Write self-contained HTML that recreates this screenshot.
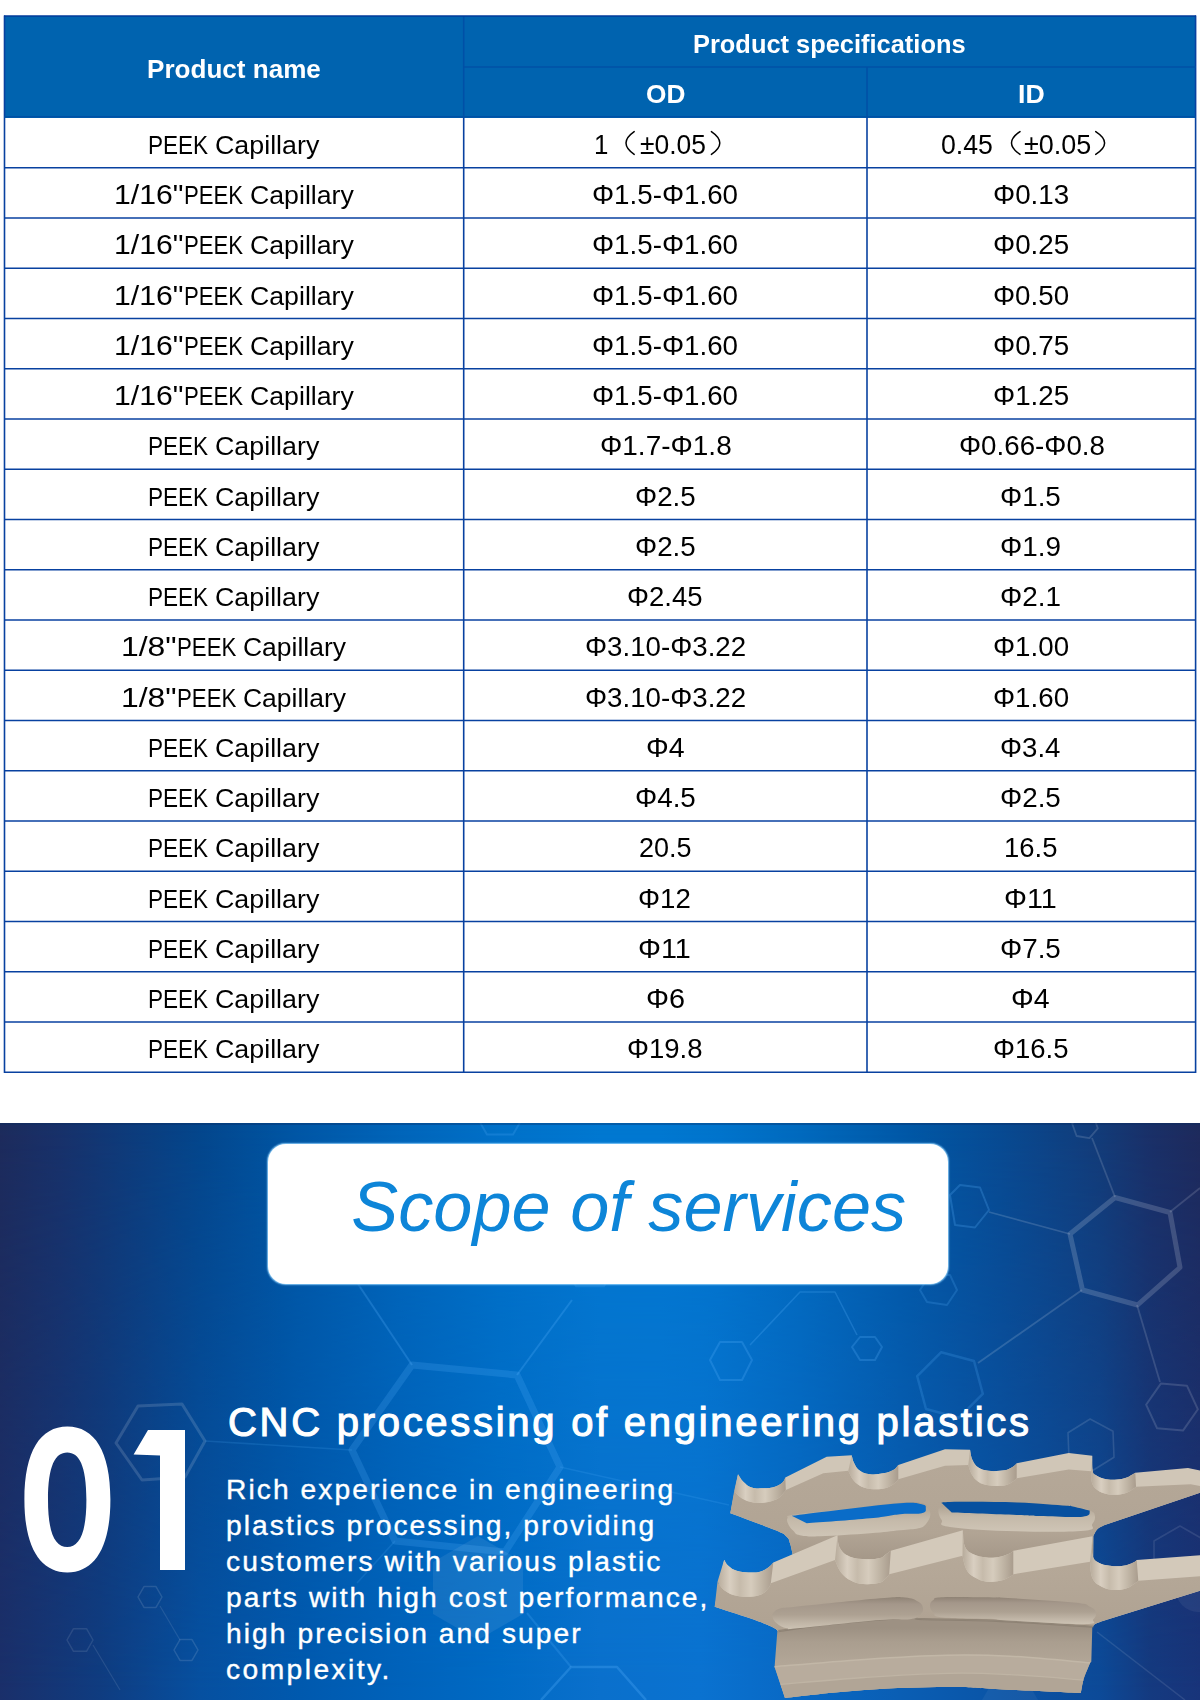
<!DOCTYPE html>
<html><head><meta charset="utf-8"><title>PEEK Capillary</title>
<style>
html,body{margin:0;padding:0;}
body{width:1200px;height:1700px;position:relative;background:#fff;overflow:hidden;font-family:"Liberation Sans",sans-serif;}
.hd{position:absolute;left:4px;top:16px;width:1192px;height:102px;background:#0063af;}
.t,.h{position:absolute;white-space:nowrap;font-size:26px;line-height:30px;transform-origin:0 24px;color:#000;}
.h{font-weight:bold;color:#fff;}
#grid{position:absolute;left:0;top:0;}
#blue{position:absolute;left:0;top:1123px;width:1200px;height:577px;overflow:hidden;
background:linear-gradient(90deg,#1d2b5c 0px,#18316a 60px,#0f3a79 120px,#04468c 200px,#0057a6 300px,#0065ba 400px,#0071c9 500px,#0078d1 600px,#0078d1 660px,#0074cc 720px,#006abe 800px,#0059a8 900px,#084a92 1000px,#133b78 1100px,#1a3068 1150px,#1e2a5c 1200px);}
#blue2{position:absolute;left:0;top:0;width:1200px;height:577px;
background:linear-gradient(90deg,#1a2f6a 0px,#0f3c80 100px,#0650a0 200px,#0059ae 300px,#0062ba 400px,#006ac4 500px,#0a70cc 600px,#0a72d0 700px,#0868c4 800px,#0a5eb4 900px,#0a54a6 1000px,#0c4a98 1100px,#143a80 1150px,#18347a 1200px);
-webkit-mask-image:linear-gradient(180deg,rgba(0,0,0,0) 0px,rgba(0,0,0,1) 570px);mask-image:linear-gradient(180deg,rgba(0,0,0,0) 0px,rgba(0,0,0,1) 570px);}
#box{position:absolute;left:268px;top:21px;width:680px;height:140px;border-radius:18px;background:#fff;box-shadow:0 0 1.5px 0.5px rgba(150,215,255,.85);}
#scope{position:absolute;font-style:italic;color:#0d85d8;white-space:nowrap;}
.n01{position:absolute;font-weight:bold;color:#fff;white-space:nowrap;transform-origin:0 0;}
#h2,#para{position:absolute;color:#fff;white-space:nowrap;}
</style></head><body>
<div class="hd"></div>
<svg id="grid" width="1200" height="1100" viewBox="0 0 1200 1100"><g stroke="#0841a0" stroke-width="1.6" fill="none"><line x1="4" y1="167.75" x2="1196" y2="167.75"/><line x1="4" y1="218.00" x2="1196" y2="218.00"/><line x1="4" y1="268.25" x2="1196" y2="268.25"/><line x1="4" y1="318.50" x2="1196" y2="318.50"/><line x1="4" y1="368.75" x2="1196" y2="368.75"/><line x1="4" y1="419.00" x2="1196" y2="419.00"/><line x1="4" y1="469.25" x2="1196" y2="469.25"/><line x1="4" y1="519.50" x2="1196" y2="519.50"/><line x1="4" y1="569.75" x2="1196" y2="569.75"/><line x1="4" y1="620.00" x2="1196" y2="620.00"/><line x1="4" y1="670.25" x2="1196" y2="670.25"/><line x1="4" y1="720.50" x2="1196" y2="720.50"/><line x1="4" y1="770.75" x2="1196" y2="770.75"/><line x1="4" y1="821.00" x2="1196" y2="821.00"/><line x1="4" y1="871.25" x2="1196" y2="871.25"/><line x1="4" y1="921.50" x2="1196" y2="921.50"/><line x1="4" y1="971.75" x2="1196" y2="971.75"/><line x1="4" y1="1022.00" x2="1196" y2="1022.00"/><line x1="4" y1="1072.25" x2="1196" y2="1072.25"/><line x1="4.5" y1="15.5" x2="4.5" y2="1073"/><line x1="1195.6" y1="15.5" x2="1195.6" y2="1073"/><line x1="463.7" y1="117" x2="463.7" y2="1073"/><line x1="867" y1="117" x2="867" y2="1073"/></g><g stroke="#0050a6" stroke-width="1.6" fill="none"><line x1="463.7" y1="16" x2="463.7" y2="117.5"/><line x1="867" y1="67" x2="867" y2="117.5"/><line x1="463.7" y1="67" x2="1196" y2="67"/><line x1="4" y1="116.8" x2="1196" y2="116.8"/></g><line x1="4" y1="16" x2="1196" y2="16" stroke="#003a9a" stroke-width="1.4"/><g stroke="#000" stroke-width="1.5" fill="none" stroke-linecap="round"><path d="M634.2,131.6 Q617.8,143 634.2,154.4"/><path d="M711.4,131.6 Q728.2,143 711.4,154.4"/><path d="M1020.0,131.6 Q1003.0,143 1020.0,154.4"/><path d="M1095.7,131.6 Q1113.5,143 1095.7,154.4"/></g></svg>
<span class="h" style="left:146.95px;top:53.74px;transform:scaleX(1.0026)">Product name</span>
<span class="h" style="left:693.49px;top:29.19px;transform:scaleX(0.9775)">Product specifications</span>
<span class="h" style="left:645.96px;top:78.99px;transform:scaleX(1.0095)">OD</span>
<span class="h" style="left:1017.71px;top:78.99px;transform:scaleX(1.0249)">ID</span>
<span class="t" style="left:148.16px;top:129.79px;transform:scaleX(0.8673)">PEEK</span>
<span class="t" style="left:215.18px;top:129.79px;transform:scaleX(1.0316)">Capillary</span>
<span class="t" style="left:594.11px;top:129.79px;transform:scale(0.9956,1.04)">1</span>
<span class="t" style="left:639.61px;top:129.79px;transform:scale(1.0163,1.04)">±0.05</span>
<span class="t" style="left:940.87px;top:129.79px;transform:scale(1.0268,1.04)">0.45</span>
<span class="t" style="left:1023.79px;top:129.79px;transform:scale(1.0370,1.04)">±0.05</span>
<span class="t" style="left:113.88px;top:180.04px;transform:scale(1.1612,1.04)">1/16&quot;</span>
<span class="t" style="left:184.39px;top:180.04px;transform:scaleX(0.8523)">PEEK</span>
<span class="t" style="left:249.99px;top:180.04px;transform:scaleX(1.0266)">Capillary</span>
<span class="t" style="left:592.40px;top:180.04px;transform:scale(1.0664,1.04)">Φ1.5-Φ1.60</span>
<span class="t" style="left:992.90px;top:180.04px;transform:scale(1.0676,1.04)">Φ0.13</span>
<span class="t" style="left:113.88px;top:230.29px;transform:scale(1.1612,1.04)">1/16&quot;</span>
<span class="t" style="left:184.39px;top:230.29px;transform:scaleX(0.8523)">PEEK</span>
<span class="t" style="left:249.99px;top:230.29px;transform:scaleX(1.0266)">Capillary</span>
<span class="t" style="left:592.40px;top:230.29px;transform:scale(1.0664,1.04)">Φ1.5-Φ1.60</span>
<span class="t" style="left:992.90px;top:230.29px;transform:scale(1.0676,1.04)">Φ0.25</span>
<span class="t" style="left:113.88px;top:280.54px;transform:scale(1.1612,1.04)">1/16&quot;</span>
<span class="t" style="left:184.39px;top:280.54px;transform:scaleX(0.8523)">PEEK</span>
<span class="t" style="left:249.99px;top:280.54px;transform:scaleX(1.0266)">Capillary</span>
<span class="t" style="left:592.40px;top:280.54px;transform:scale(1.0664,1.04)">Φ1.5-Φ1.60</span>
<span class="t" style="left:992.90px;top:280.54px;transform:scale(1.0657,1.04)">Φ0.50</span>
<span class="t" style="left:113.88px;top:330.79px;transform:scale(1.1612,1.04)">1/16&quot;</span>
<span class="t" style="left:184.39px;top:330.79px;transform:scaleX(0.8523)">PEEK</span>
<span class="t" style="left:249.99px;top:330.79px;transform:scaleX(1.0266)">Capillary</span>
<span class="t" style="left:592.40px;top:330.79px;transform:scale(1.0664,1.04)">Φ1.5-Φ1.60</span>
<span class="t" style="left:992.90px;top:330.79px;transform:scale(1.0676,1.04)">Φ0.75</span>
<span class="t" style="left:113.88px;top:381.04px;transform:scale(1.1612,1.04)">1/16&quot;</span>
<span class="t" style="left:184.39px;top:381.04px;transform:scaleX(0.8523)">PEEK</span>
<span class="t" style="left:249.99px;top:381.04px;transform:scaleX(1.0266)">Capillary</span>
<span class="t" style="left:592.40px;top:381.04px;transform:scale(1.0664,1.04)">Φ1.5-Φ1.60</span>
<span class="t" style="left:992.90px;top:381.04px;transform:scale(1.0676,1.04)">Φ1.25</span>
<span class="t" style="left:148.16px;top:431.29px;transform:scaleX(0.8673)">PEEK</span>
<span class="t" style="left:215.18px;top:431.29px;transform:scaleX(1.0316)">Capillary</span>
<span class="t" style="left:599.79px;top:431.29px;transform:scale(1.0756,1.04)">Φ1.7-Φ1.8</span>
<span class="t" style="left:958.60px;top:431.29px;transform:scale(1.0659,1.04)">Φ0.66-Φ0.8</span>
<span class="t" style="left:148.16px;top:481.54px;transform:scaleX(0.8673)">PEEK</span>
<span class="t" style="left:215.18px;top:481.54px;transform:scaleX(1.0316)">Capillary</span>
<span class="t" style="left:634.80px;top:481.54px;transform:scale(1.0673,1.04)">Φ2.5</span>
<span class="t" style="left:1000.00px;top:481.54px;transform:scale(1.0691,1.04)">Φ1.5</span>
<span class="t" style="left:148.16px;top:531.79px;transform:scaleX(0.8673)">PEEK</span>
<span class="t" style="left:215.18px;top:531.79px;transform:scaleX(1.0316)">Capillary</span>
<span class="t" style="left:634.80px;top:531.79px;transform:scale(1.0673,1.04)">Φ2.5</span>
<span class="t" style="left:999.99px;top:531.79px;transform:scale(1.0716,1.04)">Φ1.9</span>
<span class="t" style="left:148.16px;top:582.04px;transform:scaleX(0.8673)">PEEK</span>
<span class="t" style="left:215.18px;top:582.04px;transform:scaleX(1.0316)">Capillary</span>
<span class="t" style="left:627.01px;top:582.04px;transform:scale(1.0589,1.04)">Φ2.45</span>
<span class="t" style="left:999.99px;top:582.04px;transform:scale(1.0716,1.04)">Φ2.1</span>
<span class="t" style="left:121.15px;top:632.29px;transform:scale(1.2260,1.04)">1/8&quot;</span>
<span class="t" style="left:177.38px;top:632.29px;transform:scaleX(0.8553)">PEEK</span>
<span class="t" style="left:242.80px;top:632.29px;transform:scaleX(1.0175)">Capillary</span>
<span class="t" style="left:584.70px;top:632.29px;transform:scale(1.0646,1.04)">Φ3.10-Φ3.22</span>
<span class="t" style="left:992.90px;top:632.29px;transform:scale(1.0657,1.04)">Φ1.00</span>
<span class="t" style="left:121.15px;top:682.54px;transform:scale(1.2260,1.04)">1/8&quot;</span>
<span class="t" style="left:177.38px;top:682.54px;transform:scaleX(0.8553)">PEEK</span>
<span class="t" style="left:242.80px;top:682.54px;transform:scaleX(1.0175)">Capillary</span>
<span class="t" style="left:584.70px;top:682.54px;transform:scale(1.0646,1.04)">Φ3.10-Φ3.22</span>
<span class="t" style="left:992.90px;top:682.54px;transform:scale(1.0657,1.04)">Φ1.60</span>
<span class="t" style="left:148.16px;top:732.79px;transform:scaleX(0.8673)">PEEK</span>
<span class="t" style="left:215.18px;top:732.79px;transform:scaleX(1.0316)">Capillary</span>
<span class="t" style="left:645.55px;top:732.79px;transform:scale(1.0970,1.04)">Φ4</span>
<span class="t" style="left:1000.01px;top:732.79px;transform:scale(1.0618,1.04)">Φ3.4</span>
<span class="t" style="left:148.16px;top:783.04px;transform:scaleX(0.8673)">PEEK</span>
<span class="t" style="left:215.18px;top:783.04px;transform:scaleX(1.0316)">Capillary</span>
<span class="t" style="left:634.80px;top:783.04px;transform:scale(1.0691,1.04)">Φ4.5</span>
<span class="t" style="left:1000.00px;top:783.04px;transform:scale(1.0691,1.04)">Φ2.5</span>
<span class="t" style="left:148.16px;top:833.29px;transform:scaleX(0.8673)">PEEK</span>
<span class="t" style="left:215.18px;top:833.29px;transform:scaleX(1.0316)">Capillary</span>
<span class="t" style="left:638.90px;top:833.29px;transform:scale(1.0383,1.04)">20.5</span>
<span class="t" style="left:1003.89px;top:833.29px;transform:scale(1.0568,1.04)">16.5</span>
<span class="t" style="left:148.16px;top:883.54px;transform:scaleX(0.8673)">PEEK</span>
<span class="t" style="left:215.18px;top:883.54px;transform:scaleX(1.0316)">Capillary</span>
<span class="t" style="left:638.41px;top:883.54px;transform:scale(1.0624,1.04)">Φ12</span>
<span class="t" style="left:1004.34px;top:883.54px;transform:scale(1.1067,1.04)">Φ11</span>
<span class="t" style="left:148.16px;top:933.79px;transform:scaleX(0.8673)">PEEK</span>
<span class="t" style="left:215.18px;top:933.79px;transform:scaleX(1.0316)">Capillary</span>
<span class="t" style="left:638.34px;top:933.79px;transform:scale(1.1067,1.04)">Φ11</span>
<span class="t" style="left:1000.00px;top:933.79px;transform:scale(1.0691,1.04)">Φ7.5</span>
<span class="t" style="left:148.16px;top:984.04px;transform:scaleX(0.8673)">PEEK</span>
<span class="t" style="left:215.18px;top:984.04px;transform:scaleX(1.0316)">Capillary</span>
<span class="t" style="left:645.54px;top:984.04px;transform:scale(1.1096,1.04)">Φ6</span>
<span class="t" style="left:1011.25px;top:984.04px;transform:scale(1.0970,1.04)">Φ4</span>
<span class="t" style="left:148.16px;top:1034.29px;transform:scaleX(0.8673)">PEEK</span>
<span class="t" style="left:215.18px;top:1034.29px;transform:scaleX(1.0316)">Capillary</span>
<span class="t" style="left:627.21px;top:1034.29px;transform:scale(1.0589,1.04)">Φ19.8</span>
<span class="t" style="left:993.01px;top:1034.29px;transform:scale(1.0589,1.04)">Φ16.5</span>
<div id="blue"><div id="blue2"></div><svg id="hex" width="1200" height="577" viewBox="0 0 1200 577" style="position:absolute;left:0;top:0" fill="none" stroke-linejoin="round"><polygon points="1115.0,74.5 1170.0,89.5 1180.0,144.5 1137.5,182.0 1082.5,167.0 1070.0,111.0" stroke="rgb(255,255,255)" stroke-opacity="0.17" stroke-width="5"/><polyline points="1115.0,74.0 1092.0,15.0" stroke="rgb(255,255,255)" stroke-opacity="0.14" stroke-width="1.8"/><polygon points="1097.8,5.3 1089.4,15.2 1076.6,13.0 1072.2,0.7 1080.6,-9.2 1093.4,-7.0" stroke="rgb(255,255,255)" stroke-opacity="0.14" stroke-width="1.8"/><polyline points="1170.0,89.0 1200.0,65.0" stroke="rgb(255,255,255)" stroke-opacity="0.14" stroke-width="1.8"/><polyline points="1070.0,111.0 989.0,89.0" stroke="rgb(255,255,255)" stroke-opacity="0.15" stroke-width="1.8"/><polyline points="1082.0,167.0 978.0,240.0" stroke="rgb(255,255,255)" stroke-opacity="0.15" stroke-width="1.8"/><polyline points="1137.0,182.0 1160.0,259.0" stroke="rgb(255,255,255)" stroke-opacity="0.14" stroke-width="1.8"/><polygon points="950.0,72.0 960.0,62.0 980.0,64.5 989.0,87.0 975.0,104.5 955.0,102.0" stroke="rgb(90,180,255)" stroke-opacity="0.24" stroke-width="2"/><polygon points="982.8,270.8 958.8,294.8 926.0,286.0 917.2,253.2 941.2,229.2 974.0,238.0" stroke="rgb(90,180,255)" stroke-opacity="0.2" stroke-width="2.5"/><polygon points="1197.9,286.3 1183.0,307.6 1157.1,305.3 1146.1,281.7 1161.0,260.4 1186.9,262.7" stroke="rgb(255,255,255)" stroke-opacity="0.14" stroke-width="2"/><polygon points="920.0,167.0 930.0,152.0 950.0,152.0 957.0,167.0 947.0,182.0 927.0,179.0" stroke="rgb(90,180,255)" stroke-opacity="0.2" stroke-width="2"/><polygon points="852.0,224.0 860.0,214.0 875.0,214.0 882.0,224.0 875.0,237.0 860.0,237.0" stroke="rgb(90,180,255)" stroke-opacity="0.24" stroke-width="2"/><polygon points="710.0,237.0 720.0,219.0 742.0,219.0 752.0,237.0 742.0,257.0 720.0,257.0" stroke="rgb(90,180,255)" stroke-opacity="0.24" stroke-width="2"/><polyline points="750.0,222.0 800.0,169.0 835.0,169.0 857.0,212.0" stroke="rgb(90,180,255)" stroke-opacity="0.24" stroke-width="1.6"/><polygon points="412.0,242.0 517.0,252.0 560.0,344.0 505.0,429.0 395.0,418.0 352.0,327.0" stroke="rgb(90,180,255)" stroke-opacity="0.2" stroke-width="7"/><polyline points="412.0,242.0 360.0,164.0" stroke="rgb(90,180,255)" stroke-opacity="0.25" stroke-width="2"/><polyline points="517.0,252.0 572.0,177.0" stroke="rgb(90,180,255)" stroke-opacity="0.25" stroke-width="2"/><polyline points="360.0,164.0 330.0,117.0" stroke="rgb(90,180,255)" stroke-opacity="0.15" stroke-width="2"/><polyline points="395.0,418.0 357.0,460.0" stroke="rgb(90,180,255)" stroke-opacity="0.15" stroke-width="1.6"/><polygon points="526.0,-11.0 513.0,11.5 487.0,11.5 474.0,-11.0 487.0,-33.5 513.0,-33.5" stroke="rgb(90,180,255)" stroke-opacity="0.2" stroke-width="2"/><polygon points="618.0,139.0 604.0,163.2 576.0,163.2 562.0,139.0 576.0,114.8 604.0,114.8" stroke="rgb(90,180,255)" stroke-opacity="0.18" stroke-width="2"/><polygon points="116.0,320.0 138.0,283.0 182.0,281.0 205.0,318.0 185.0,354.0 142.0,357.0" stroke="rgb(255,255,255)" stroke-opacity="0.14" stroke-width="3"/><polyline points="205.0,318.0 352.0,327.0" stroke="rgb(90,180,255)" stroke-opacity="0.16" stroke-width="1.6"/><polygon points="523.0,491.0 478.0,517.0 433.0,491.0 433.0,439.0 478.0,413.0 523.0,439.0" stroke="rgb(255,255,255)" stroke-opacity="0" stroke-width="0" fill="rgba(255,255,255,0.075)"/><polygon points="1038.0,577.0 1024.0,601.2 996.0,601.2 982.0,577.0 996.0,552.8 1024.0,552.8" stroke="rgb(255,255,255)" stroke-opacity="0" stroke-width="0" fill="rgba(255,255,255,0.05)"/><circle cx="1198" cy="467" r="22" fill="rgba(255,255,255,0.06)"/><polyline points="541.0,577.0 571.0,544.0 617.0,544.0 646.0,577.0" stroke="rgb(90,180,255)" stroke-opacity="0.28" stroke-width="2.5"/><polyline points="527.0,490.0 571.0,544.0" stroke="rgb(90,180,255)" stroke-opacity="0.2" stroke-width="2"/><polyline points="560.0,344.0 729.0,382.0" stroke="rgb(90,180,255)" stroke-opacity="0.16" stroke-width="1.6"/><polygon points="162.0,474.0 156.0,484.4 144.0,484.4 138.0,474.0 144.0,463.6 156.0,463.6" stroke="rgb(255,255,255)" stroke-opacity="0.12" stroke-width="1.5"/><polygon points="93.0,517.0 86.5,528.3 73.5,528.3 67.0,517.0 73.5,505.7 86.5,505.7" stroke="rgb(255,255,255)" stroke-opacity="0.1" stroke-width="1.5"/><polygon points="198.0,527.0 192.0,537.4 180.0,537.4 174.0,527.0 180.0,516.6 192.0,516.6" stroke="rgb(255,255,255)" stroke-opacity="0.12" stroke-width="1.5"/><polyline points="160.0,483.0 180.0,517.0" stroke="rgb(255,255,255)" stroke-opacity="0.1" stroke-width="1.2"/><polyline points="93.0,522.0 120.0,567.0" stroke="rgb(255,255,255)" stroke-opacity="0.1" stroke-width="1.2"/><polygon points="1206.0,448.0 1180.0,463.0 1154.0,448.0 1154.0,418.0 1180.0,403.0 1206.0,418.0" stroke="rgb(255,255,255)" stroke-opacity="0.1" stroke-width="1.6"/><polygon points="1114.0,334.2 1091.9,348.0 1069.0,335.8 1068.0,309.8 1090.1,296.0 1113.0,308.2" stroke="rgb(255,255,255)" stroke-opacity="0.12" stroke-width="1.6"/><polyline points="1097.0,509.0 1185.0,577.0" stroke="rgb(255,255,255)" stroke-opacity="0.1" stroke-width="1.5"/><rect x="0" y="0" width="1200" height="2" fill="#0a2a5e" fill-opacity=".35"/></svg><div id="box"></div><svg id="part" width="1200" height="577" viewBox="0 0 1200 577" style="position:absolute;left:0;top:0"><defs>
<linearGradient id="gw" x1="0" x2="1" y1="0" y2="0"><stop offset="0" stop-color="#b7ab9b"/><stop offset=".22" stop-color="#d9cfc1"/><stop offset=".4" stop-color="#c6bbab"/><stop offset=".6" stop-color="#d6ccbd"/><stop offset=".8" stop-color="#c0b5a5"/><stop offset="1" stop-color="#a99c8d"/></linearGradient>
<linearGradient id="gup" x1="0" x2="0" y1="0" y2="1"><stop offset="0" stop-color="#b5a898"/><stop offset=".55" stop-color="#b1a494"/><stop offset=".8" stop-color="#a29586"/><stop offset="1" stop-color="#8f8375"/></linearGradient>
<linearGradient id="glo" x1="0" x2="0" y1="0" y2="1"><stop offset="0" stop-color="#b6a999"/><stop offset="1" stop-color="#afa292"/></linearGradient>
<linearGradient id="gb1" gradientUnits="userSpaceOnUse" x1="0" x2="0" y1="505" y2="540"><stop offset="0" stop-color="#9d9183"/><stop offset=".4" stop-color="#aa9e8f"/><stop offset="1" stop-color="#b2a697"/></linearGradient>
<linearGradient id="gpk" x1="0" x2="0" y1="0" y2="1"><stop offset="0" stop-color="#8f8375"/><stop offset=".22" stop-color="#a4978a"/><stop offset=".55" stop-color="#ada192"/><stop offset=".8" stop-color="#c0b5a6"/><stop offset="1" stop-color="#cdc3b4"/></linearGradient>
<linearGradient id="gsl" x1="0" x2="0" y1="0" y2="1"><stop offset="0" stop-color="#a89b8b"/><stop offset=".5" stop-color="#c4b9a9"/><stop offset="1" stop-color="#cfc5b6"/></linearGradient>
</defs><path d="M738.0,351.2C739.1,352.7 740.6,356.0 743.3,358.7C746.1,361.3 747.7,363.2 751.7,364.5C755.7,365.8 758.7,365.5 763.3,365.3C768.0,365.2 771.2,364.8 775.0,363.7C778.8,362.5 780.4,361.3 782.5,359.5C784.6,357.7 784.8,355.5 785.3,354.5L826.7,333.7L851.7,332.3C852.2,333.9 852.5,337.2 854.2,340.3C855.8,343.4 856.8,345.7 860.0,347.8C863.2,350.0 865.3,350.7 870.0,351.2C874.7,351.7 878.7,351.2 883.3,350.3C888.0,349.5 890.3,348.7 893.3,347.0C896.3,345.3 897.3,343.0 898.3,342.0L945.0,326.2L970.0,326.7C970.5,328.7 970.8,333.4 972.5,337.0C974.2,340.6 975.2,342.3 978.3,344.5C981.5,346.7 984.0,347.2 988.3,347.8C992.7,348.5 996.0,348.2 1000.0,347.8C1004.0,347.5 1005.5,347.2 1008.3,346.2C1011.2,345.2 1012.5,344.0 1014.2,342.8C1015.8,341.7 1016.2,340.8 1016.7,340.3L1068.7,330.1L1092.3,332.7C1092.3,335.7 1091.9,343.7 1092.7,347.7C1093.4,351.6 1093.7,350.7 1096.0,352.3C1098.3,353.9 1100.3,354.8 1104.0,355.7C1107.7,356.5 1110.4,356.9 1114.7,356.7C1118.9,356.6 1121.9,356.0 1125.3,355.0C1128.8,354.0 1130.0,352.7 1132.0,351.7C1134.0,350.6 1134.7,350.1 1135.3,349.7L1188.0,345.0L1200.0,347.4L1200.0,369.7L1104.0,402.3C1102.7,403.1 1099.5,404.2 1097.3,406.3C1095.2,408.5 1094.1,411.7 1093.3,413.0L1093.0,457.0L800.0,467.0L791.7,427.0C791.3,425.7 791.0,423.0 790.0,420.3C789.0,417.7 789.7,416.3 786.7,413.7C783.7,411.0 786.3,411.7 775.0,407.0C763.7,402.3 739.3,393.7 730.3,390.3L738.0,351.2Z" fill="#d0c6b7" /><path d="M734.2,367.8C735.7,369.3 737.8,373.0 741.7,375.3C745.5,377.7 748.7,378.7 753.3,379.5C758.0,380.3 760.3,380.2 765.0,379.5C769.7,378.8 773.2,377.8 776.7,376.2C780.2,374.5 780.7,373.0 782.5,371.2C784.3,369.3 785.2,367.8 785.8,367.0L823.3,350.3L848.3,347.8C849.3,349.7 850.7,353.8 853.3,357.0C856.0,360.2 857.7,361.8 861.7,363.7C865.7,365.5 868.7,365.8 873.3,366.2C878.0,366.5 881.0,366.3 885.0,365.3C889.0,364.3 890.7,363.0 893.3,361.2C896.0,359.3 897.3,357.2 898.3,356.2L945.0,342.8L968.3,342.0C969.0,343.8 969.7,347.8 971.7,351.2C973.7,354.5 975.0,356.4 978.3,358.7C981.7,360.9 984.0,361.5 988.3,362.3C992.7,363.2 996.0,363.1 1000.0,362.8C1004.0,362.6 1005.3,362.3 1008.3,361.2C1011.3,360.0 1013.3,358.2 1015.0,357.0C1016.7,355.8 1016.3,355.7 1016.7,355.3L1068.7,346.6L1091.3,348.3C1091.5,350.6 1090.8,355.9 1092.0,359.7C1093.2,363.4 1094.4,364.7 1097.3,367.0C1100.3,369.3 1102.7,370.1 1106.7,371.0C1110.7,371.9 1113.3,371.9 1117.3,371.7C1121.3,371.4 1123.5,370.9 1126.7,369.7C1129.9,368.5 1131.5,366.9 1133.3,365.7C1135.2,364.5 1135.5,364.1 1136.0,363.7L1190.7,361.3L1200.0,363.0L1200.0,369.7L1104.0,402.3C1102.7,403.1 1099.5,404.2 1097.3,406.3C1095.2,408.5 1094.1,411.7 1093.3,413.0L1093.0,457.0L800.0,467.0L791.7,427.0C791.3,425.7 791.0,423.0 790.0,420.3C789.0,417.7 789.7,416.3 786.7,413.7C783.7,411.0 786.3,411.7 775.0,407.0C763.7,402.3 739.3,393.7 730.3,390.3L734.2,367.8Z" fill="url(#gup)" /><path d="M738.0,351.2C739.1,352.7 740.6,356.0 743.3,358.7C746.1,361.3 747.7,363.2 751.7,364.5C755.7,365.8 758.7,365.5 763.3,365.3C768.0,365.2 771.2,364.8 775.0,363.7C778.8,362.5 780.4,361.3 782.5,359.5C784.6,357.7 784.8,355.5 785.3,354.5L785.8,367.0C785.2,367.8 784.3,369.3 782.5,371.2C780.7,373.0 780.2,374.5 776.7,376.2C773.2,377.8 769.7,378.8 765.0,379.5C760.3,380.2 758.0,380.3 753.3,379.5C748.7,378.7 745.5,377.7 741.7,375.3C737.8,373.0 735.7,369.3 734.2,367.8L738.0,351.2Z" fill="url(#gw)" /><path d="M851.7,332.3C852.2,333.9 852.5,337.2 854.2,340.3C855.8,343.4 856.8,345.7 860.0,347.8C863.2,350.0 865.3,350.7 870.0,351.2C874.7,351.7 878.7,351.2 883.3,350.3C888.0,349.5 890.3,348.7 893.3,347.0C896.3,345.3 897.3,343.0 898.3,342.0L898.3,356.2C897.3,357.2 896.0,359.3 893.3,361.2C890.7,363.0 889.0,364.3 885.0,365.3C881.0,366.3 878.0,366.5 873.3,366.2C868.7,365.8 865.7,365.5 861.7,363.7C857.7,361.8 856.0,360.2 853.3,357.0C850.7,353.8 849.3,349.7 848.3,347.8L851.7,332.3Z" fill="url(#gw)" /><path d="M970.0,326.7C970.5,328.7 970.8,333.4 972.5,337.0C974.2,340.6 975.2,342.3 978.3,344.5C981.5,346.7 984.0,347.2 988.3,347.8C992.7,348.5 996.0,348.2 1000.0,347.8C1004.0,347.5 1005.5,347.2 1008.3,346.2C1011.2,345.2 1012.5,344.0 1014.2,342.8C1015.8,341.7 1016.2,340.8 1016.7,340.3L1016.7,355.3C1016.3,355.7 1016.7,355.8 1015.0,357.0C1013.3,358.2 1011.3,360.0 1008.3,361.2C1005.3,362.3 1004.0,362.6 1000.0,362.8C996.0,363.1 992.7,363.2 988.3,362.3C984.0,361.5 981.7,360.9 978.3,358.7C975.0,356.4 973.7,354.5 971.7,351.2C969.7,347.8 969.0,343.8 968.3,342.0L970.0,326.7Z" fill="url(#gw)" /><path d="M1092.3,332.7C1092.3,335.7 1091.9,343.7 1092.7,347.7C1093.4,351.6 1093.7,350.7 1096.0,352.3C1098.3,353.9 1100.3,354.8 1104.0,355.7C1107.7,356.5 1110.4,356.9 1114.7,356.7C1118.9,356.6 1121.9,356.0 1125.3,355.0C1128.8,354.0 1130.0,352.7 1132.0,351.7C1134.0,350.6 1134.7,350.1 1135.3,349.7L1136.0,363.7C1135.5,364.1 1135.2,364.5 1133.3,365.7C1131.5,366.9 1129.9,368.5 1126.7,369.7C1123.5,370.9 1121.3,371.4 1117.3,371.7C1113.3,371.9 1110.7,371.9 1106.7,371.0C1102.7,370.1 1100.3,369.3 1097.3,367.0C1094.4,364.7 1093.2,363.4 1092.0,359.7C1090.8,355.9 1091.5,350.6 1091.3,348.3L1092.3,332.7Z" fill="url(#gw)" /><path d="M787.5,395.0C788.5,393.1 783.5,393.3 793.3,391.7C803.2,390.0 815.3,389.1 836.7,386.7C858.0,384.3 883.0,380.9 900.0,379.7C917.0,378.4 916.2,379.4 921.7,380.3C927.2,381.3 925.8,382.2 927.5,384.5C929.2,386.8 930.7,388.7 930.3,392.0C930.0,395.3 928.2,398.5 925.8,401.2C923.4,403.8 923.5,404.1 918.3,405.3C913.2,406.6 909.7,406.3 900.0,407.3C890.3,408.3 886.0,409.1 870.0,410.3C854.0,411.5 834.0,412.9 820.0,413.3C806.0,413.7 805.3,413.4 800.0,412.3C794.7,411.2 795.7,410.1 793.3,407.8C791.0,405.6 789.5,403.7 788.3,401.2C787.2,398.6 786.5,396.9 787.5,395.0Z" fill="url(#gsl)" /><path d="M791.7,392.8C800.7,391.7 815.0,389.7 836.7,387.2C858.3,384.7 883.0,381.5 900.0,380.3C917.0,379.1 916.5,380.2 921.7,381.2C926.8,382.2 925.8,383.5 925.8,385.3C925.8,387.2 926.8,389.2 921.7,390.3C916.5,391.5 910.3,390.2 900.0,391.2C889.7,392.2 888.7,393.5 870.0,395.3C851.3,397.2 819.3,399.3 806.7,400.3L791.7,392.8Z" fill="#0a6cc8" /><path d="M938.3,387.0C938.6,383.8 940.7,382.8 943.0,381.2C945.3,379.5 935.3,379.1 950.0,378.7C964.7,378.3 993.3,378.4 1016.7,379.2C1040.0,379.9 1055.9,381.8 1066.7,382.5C1077.5,383.2 1066.0,381.6 1070.7,382.6C1075.3,383.6 1085.1,385.3 1090.0,387.4C1094.9,389.5 1094.5,390.3 1094.9,393.0C1095.4,395.7 1094.5,398.1 1092.3,401.0C1090.1,403.9 1099.1,406.2 1084.0,407.7C1068.9,409.1 1043.5,409.1 1016.7,408.3C989.9,407.6 965.0,406.3 950.0,404.0C935.0,401.7 944.0,400.4 941.7,397.0C939.3,393.6 938.1,390.2 938.3,387.0Z" fill="url(#gsl)" /><path d="M943.0,381.2C944.4,380.7 935.3,379.3 950.0,379.0C964.7,378.7 993.3,378.7 1016.7,379.5C1040.0,380.3 1055.9,382.1 1066.7,382.8C1077.5,383.5 1066.0,382.0 1070.7,383.0C1075.3,384.0 1086.1,386.7 1090.0,387.7C1088.5,388.9 1092.7,392.6 1082.7,393.7C1072.7,394.7 1053.2,393.3 1040.0,393.0C1026.8,392.7 1034.3,392.7 1016.7,392.0C999.0,391.3 964.7,390.0 951.7,389.5L943.0,381.2Z" fill="#07509f" /><path d="M778.3,495.8L774.6,543.7L785.0,574.9C800.8,573.3 831.7,569.2 864.2,567.0C896.7,564.8 920.3,564.2 947.5,564.1C974.7,563.9 973.3,565.0 1000.0,566.2C1026.7,567.4 1064.7,569.2 1080.8,570.0C1081.3,567.4 1081.5,562.9 1083.3,557.0C1085.2,551.1 1088.7,543.7 1090.0,540.3L1091.3,538.7L1092.5,497.0L996.7,487.0L880.0,487.0L778.3,495.8Z" fill="url(#gb1)" /><path d="M774.6,543.7C792.5,542.2 829.6,538.7 864.2,536.4C898.8,534.1 918.3,532.8 947.5,532.2C976.7,531.6 981.5,531.7 1010.0,533.2C1038.5,534.8 1074.0,538.5 1090.0,539.8C1088.7,543.3 1085.2,551.0 1083.3,557.0C1081.5,563.0 1081.3,567.4 1080.8,570.0C1064.7,569.2 1026.7,567.4 1000.0,566.2C973.3,565.0 974.7,563.9 947.5,564.1C920.3,564.2 896.7,564.8 864.2,567.0C831.7,569.2 800.8,573.3 785.0,574.9L774.6,543.7Z" fill="#b8ac9d" /><path d="M780.8,561.4C797.5,560.0 830.8,556.7 864.2,554.5C897.5,552.3 918.3,550.9 947.5,550.3C976.7,549.7 982.8,550.2 1010.0,551.6C1037.2,552.9 1068.7,555.9 1083.3,557.0L1080.8,570.0C1064.7,569.2 1026.7,567.4 1000.0,566.2C973.3,565.0 974.7,563.9 947.5,564.1C920.3,564.2 896.7,564.8 864.2,567.0C831.7,569.2 800.8,573.3 785.0,574.9L780.8,561.4Z" fill="#b1a596" /><path d="M774.6,543.7C792.5,542.2 829.6,538.7 864.2,536.4C898.8,534.1 918.3,532.8 947.5,532.2C976.7,531.6 981.5,531.7 1010.0,533.2C1038.5,534.8 1074.0,538.5 1090.0,539.8" fill="none" stroke="#c2b7a7" stroke-width="1.5"/><path d="M780.8,561.4C797.5,560.0 830.8,556.7 864.2,554.5C897.5,552.3 918.3,550.9 947.5,550.3C976.7,549.7 982.8,550.2 1010.0,551.6C1037.2,552.9 1068.7,555.9 1083.3,557.0" fill="none" stroke="#bfb4a4" stroke-width="1.3"/><path d="M724.2,436.7C725.0,437.9 725.8,440.6 728.3,442.8C730.8,445.1 732.7,446.5 736.7,447.8C740.7,449.2 743.7,449.3 748.3,449.5C753.0,449.7 756.0,449.7 760.0,448.7C764.0,447.7 765.7,446.3 768.3,444.5C771.0,442.7 772.3,440.5 773.3,439.5L837.5,412.3C838.0,414.9 837.5,421.1 840.0,425.3C842.5,429.6 844.7,431.5 850.0,433.7C855.3,435.8 860.7,435.9 866.7,436.2C872.7,436.4 876.3,435.8 880.0,435.0C883.7,434.2 882.8,433.4 885.0,432.0C887.2,430.6 889.7,428.7 890.8,427.8L962.8,407.3C963.3,410.6 962.9,418.9 965.0,423.7C967.1,428.4 969.0,429.0 973.3,431.2C977.7,433.3 981.3,434.0 986.7,434.5C992.0,435.0 995.3,434.5 1000.0,433.7C1004.7,432.8 1007.3,431.5 1010.0,430.3C1012.7,429.2 1012.7,428.3 1013.3,427.8L1092.5,413.3C1092.5,417.1 1091.3,426.8 1092.5,432.0C1093.7,437.2 1094.8,437.3 1098.3,439.5C1101.8,441.7 1105.0,442.2 1110.0,442.8C1115.0,443.5 1118.7,443.5 1123.3,442.8C1128.0,442.2 1130.7,440.7 1133.3,439.5C1136.0,438.3 1136.0,437.5 1136.7,437.0L1200.0,432.3L1200.0,467.8L1108.3,496.2C1106.0,497.0 1099.8,498.8 1096.7,500.3C1093.5,501.8 1093.3,503.0 1092.5,503.7C1090.0,503.5 1099.2,504.0 1080.0,502.8C1060.8,501.7 1028.0,499.2 996.7,497.8C965.3,496.5 941.5,496.8 923.3,496.2C905.2,495.5 926.0,493.5 905.8,494.7C885.7,495.9 848.0,499.3 822.5,502.0C797.0,504.7 787.2,507.0 778.3,508.2C777.0,507.3 777.3,506.3 771.7,503.7C766.0,501.1 761.4,499.3 750.0,495.3C738.6,491.3 721.7,486.0 714.7,483.7L724.2,436.7Z" fill="#d3c9ba" /><path d="M717.5,458.7C719.0,460.5 721.2,465.0 725.0,467.8C728.8,470.7 731.7,471.7 736.7,472.8C741.7,474.0 745.0,474.0 750.0,473.7C755.0,473.3 758.0,472.8 761.7,471.2C765.3,469.5 766.5,467.5 768.3,465.3C770.2,463.2 770.3,461.3 770.8,460.3L835.0,437.0C836.3,439.7 838.0,446.0 841.7,450.3C845.3,454.7 848.3,456.5 853.3,458.7C858.3,460.8 861.3,461.0 866.7,461.2C872.0,461.3 876.3,460.5 880.0,459.5C883.7,458.5 883.2,457.8 885.0,456.2C886.8,454.5 888.3,452.2 889.2,451.2L962.5,432.8C963.3,435.7 964.2,442.7 966.7,447.0C969.2,451.3 971.0,452.2 975.0,454.5C979.0,456.8 981.7,458.0 986.7,458.7C991.7,459.3 995.3,458.8 1000.0,457.8C1004.7,456.8 1007.3,455.0 1010.0,453.7C1012.7,452.3 1012.7,451.7 1013.3,451.2L1090.0,438.7C1090.5,442.0 1090.2,450.3 1092.5,455.3C1094.8,460.3 1097.2,461.3 1101.7,463.7C1106.2,466.0 1110.0,466.7 1115.0,467.0C1120.0,467.3 1122.7,466.7 1126.7,465.3C1130.7,464.0 1132.7,461.8 1135.0,460.3C1137.3,458.8 1137.7,458.3 1138.3,457.8L1200.0,453.3L1200.0,467.8L1108.3,496.2C1106.0,497.0 1099.8,498.8 1096.7,500.3C1093.5,501.8 1093.3,503.0 1092.5,503.7C1090.0,503.5 1099.2,504.0 1080.0,502.8C1060.8,501.7 1028.0,499.2 996.7,497.8C965.3,496.5 941.5,496.8 923.3,496.2C905.2,495.5 926.0,493.5 905.8,494.7C885.7,495.9 848.0,499.3 822.5,502.0C797.0,504.7 787.2,507.0 778.3,508.2C777.0,507.3 777.3,506.3 771.7,503.7C766.0,501.1 761.4,499.3 750.0,495.3C738.6,491.3 721.7,486.0 714.7,483.7L717.5,458.7Z" fill="url(#glo)" /><path d="M724.2,436.7C725.0,437.9 725.8,440.6 728.3,442.8C730.8,445.1 732.7,446.5 736.7,447.8C740.7,449.2 743.7,449.3 748.3,449.5C753.0,449.7 756.0,449.7 760.0,448.7C764.0,447.7 765.7,446.3 768.3,444.5C771.0,442.7 772.3,440.5 773.3,439.5L770.8,460.3C770.3,461.3 770.2,463.2 768.3,465.3C766.5,467.5 765.3,469.5 761.7,471.2C758.0,472.8 755.0,473.3 750.0,473.7C745.0,474.0 741.7,474.0 736.7,472.8C731.7,471.7 728.8,470.7 725.0,467.8C721.2,465.0 719.0,460.5 717.5,458.7L724.2,436.7Z" fill="url(#gw)" /><path d="M837.5,412.3C838.0,414.9 837.5,421.1 840.0,425.3C842.5,429.6 844.7,431.5 850.0,433.7C855.3,435.8 860.7,435.9 866.7,436.2C872.7,436.4 876.3,435.8 880.0,435.0C883.7,434.2 882.8,433.4 885.0,432.0C887.2,430.6 889.7,428.7 890.8,427.8L889.2,451.2C888.3,452.2 886.8,454.5 885.0,456.2C883.2,457.8 883.7,458.5 880.0,459.5C876.3,460.5 872.0,461.3 866.7,461.2C861.3,461.0 858.3,460.8 853.3,458.7C848.3,456.5 845.3,454.7 841.7,450.3C838.0,446.0 836.3,439.7 835.0,437.0L837.5,412.3Z" fill="url(#gw)" /><path d="M962.8,407.3C963.3,410.6 962.9,418.9 965.0,423.7C967.1,428.4 969.0,429.0 973.3,431.2C977.7,433.3 981.3,434.0 986.7,434.5C992.0,435.0 995.3,434.5 1000.0,433.7C1004.7,432.8 1007.3,431.5 1010.0,430.3C1012.7,429.2 1012.7,428.3 1013.3,427.8L1013.3,451.2C1012.7,451.7 1012.7,452.3 1010.0,453.7C1007.3,455.0 1004.7,456.8 1000.0,457.8C995.3,458.8 991.7,459.3 986.7,458.7C981.7,458.0 979.0,456.8 975.0,454.5C971.0,452.2 969.2,451.3 966.7,447.0C964.2,442.7 963.3,435.7 962.5,432.8L962.8,407.3Z" fill="url(#gw)" /><path d="M1092.5,413.3C1092.5,417.1 1091.3,426.8 1092.5,432.0C1093.7,437.2 1094.8,437.3 1098.3,439.5C1101.8,441.7 1105.0,442.2 1110.0,442.8C1115.0,443.5 1118.7,443.5 1123.3,442.8C1128.0,442.2 1130.7,440.7 1133.3,439.5C1136.0,438.3 1136.0,437.5 1136.7,437.0L1138.3,457.8C1137.7,458.3 1137.3,458.8 1135.0,460.3C1132.7,461.8 1130.7,464.0 1126.7,465.3C1122.7,466.7 1120.0,467.3 1115.0,467.0C1110.0,466.7 1106.2,466.0 1101.7,463.7C1097.2,461.3 1094.8,460.3 1092.5,455.3C1090.2,450.3 1090.5,442.0 1090.0,438.7L1092.5,413.3Z" fill="url(#gw)" /><path d="M1092.5,503.7C1090.0,503.5 1099.2,504.0 1080.0,502.8C1060.8,501.7 1028.0,499.2 996.7,497.8C965.3,496.5 941.5,496.8 923.3,496.2C905.2,495.5 926.0,493.5 905.8,494.7C885.7,495.9 848.0,499.3 822.5,502.0C797.0,504.7 787.2,507.0 778.3,508.2" fill="none" stroke="#8a7e70" stroke-opacity=".8" stroke-width="2.2"/><path d="M772.5,493.7C772.0,491.3 772.3,490.4 774.2,488.7C776.0,486.9 777.8,485.9 781.7,485.0C785.5,484.1 773.7,485.9 793.3,484.0C813.0,482.1 857.7,477.2 880.0,475.3C902.3,473.4 897.3,473.8 905.0,474.5C912.7,475.2 914.7,476.5 918.3,478.7C921.9,480.8 922.7,482.7 923.0,485.3C923.3,488.0 922.6,489.8 920.0,492.0C917.4,494.2 918.0,495.2 910.0,496.2C902.0,497.2 902.0,495.2 880.0,497.0C858.0,498.8 818.7,503.3 800.0,505.0C781.3,506.7 791.3,506.3 786.7,505.3C782.0,504.4 779.5,502.7 776.7,500.3C773.8,498.0 773.0,496.0 772.5,493.7Z" fill="url(#gpk)" /><path d="M930.0,482.8C930.0,480.3 930.7,478.7 933.3,477.0C936.0,475.3 930.7,474.7 943.3,474.2C956.0,473.7 985.3,474.4 996.7,474.5C1008.0,474.6 984.7,473.5 1000.0,474.5C1015.3,475.5 1055.3,477.7 1073.3,479.5C1091.3,481.3 1085.5,481.7 1090.0,483.7C1094.5,485.7 1095.2,487.0 1095.8,489.5C1096.5,492.0 1095.8,493.8 1093.3,496.2C1090.8,498.5 1102.0,501.0 1083.3,501.2C1064.7,501.3 1017.3,498.0 1000.0,497.0C982.7,496.0 1008.0,496.7 996.7,496.2C985.3,495.7 956.0,495.8 943.3,494.5C930.7,493.2 936.0,491.8 933.3,489.5C930.7,487.2 930.0,485.3 930.0,482.8Z" fill="url(#gpk)" /></svg></div>
<div id="scope" style="left:351.3px;top:1166.64px;font-size:70.3px;line-height:80px">Scope of services</div>
<svg id="n01" width="200" height="200" viewBox="0 1400 200 200" style="position:absolute;left:0;top:1400px"><path fill="#fff" fill-rule="evenodd" d="M67.4,1426.6 C94.5,1426.6 110.4,1451.4 110.4,1499.5 C110.4,1547.6 94.5,1572.4 67.4,1572.4 C40.3,1572.4 24.4,1547.6 24.4,1499.5 C24.4,1451.4 40.3,1426.6 67.4,1426.6Z M67.2,1452.4 C79.1,1452.4 86.4,1465.6 86.4,1499.7 C86.4,1533.8 79.1,1547.0 67.2,1547.0 C55.3,1547.0 48.0,1533.8 48.0,1499.7 C48.0,1465.6 55.3,1452.4 67.2,1452.4Z"/><path fill="#fff" d="M148,1430 L185,1430 L185,1570 L160,1570 L160,1455.6 L133.6,1454.4 Z"/></svg>
<div id="h2" style="left:228.02px;top:1398.79px;font-size:40px;line-height:46px;letter-spacing:2.72px;-webkit-text-stroke:1.1px #fff">CNC processing of engineering plastics</div>
<div id="para" style="left:226px;top:1470.83px;font-size:28.2px;line-height:36px;letter-spacing:2.07px;-webkit-text-stroke:0.4px #fff">Rich experience in engineering<br>plastics processing, providing<br>customers with various plastic<br>parts with high cost performance,<br>high precision and super<br><span style="letter-spacing:2.45px">complexity.</span></div>
</body></html>
